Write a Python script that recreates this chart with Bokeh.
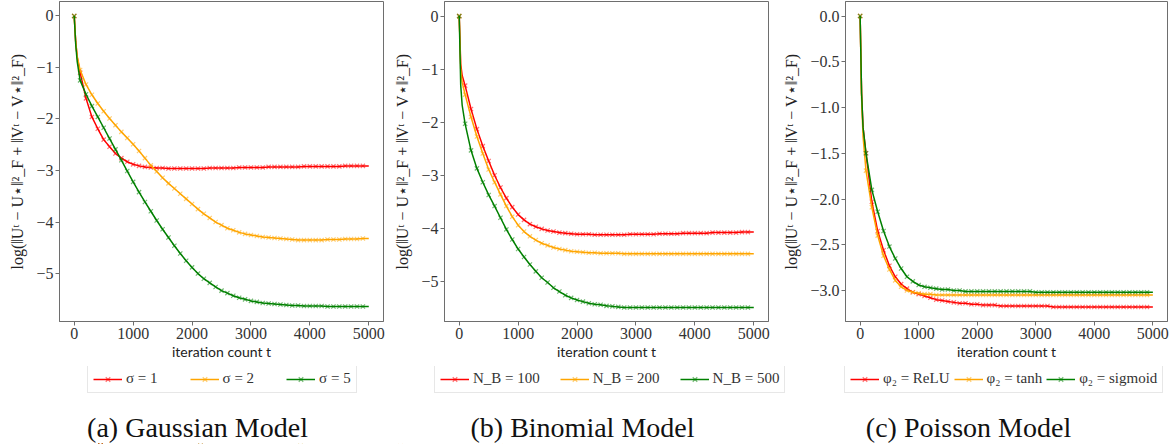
from bokeh.plotting import figure
from bokeh.layouts import row
from bokeh.models import (FixedTicker, CustomJSTickFormatter, Legend, LegendItem, Label)
from bokeh.embed import file_html
from bokeh.resources import INLINE

# ---------------- data ----------------
iters = list(range(0, 5001, 100))          # iteration counts of the sampled points
early_iters = [25, 50]                      # extra points read on the steep start

# (a) Gaussian model
gauss_s1 = [0, -1.10, -1.60, -1.96, -2.19, -2.40, -2.54, -2.67, -2.76, -2.83,
            -2.88, -2.91, -2.93, -2.94, -2.95, -2.95, -2.96, -2.96, -2.96, -2.96,
            -2.96, -2.96, -2.96, -2.95, -2.95, -2.95, -2.95, -2.95, -2.94, -2.94,
            -2.94, -2.94, -2.94, -2.93, -2.93, -2.93, -2.93, -2.93, -2.93, -2.92,
            -2.92, -2.92, -2.92, -2.92, -2.92, -2.92, -2.91, -2.91, -2.91, -2.91,
            -2.91]
gauss_s2 = [0, -1.05, -1.33, -1.53, -1.70, -1.85, -1.99, -2.12, -2.25, -2.37,
            -2.49, -2.62, -2.76, -2.90, -3.02, -3.14, -3.25, -3.35, -3.45, -3.55,
            -3.65, -3.75, -3.84, -3.92, -4.00, -4.06, -4.12, -4.16, -4.20, -4.23,
            -4.25, -4.27, -4.29, -4.30, -4.31, -4.32, -4.33, -4.34, -4.35, -4.35,
            -4.35, -4.35, -4.35, -4.34, -4.34, -4.34, -4.33, -4.33, -4.33, -4.32,
            -4.32]
gauss_s5 = [0, -1.25, -1.52, -1.75, -1.96, -2.17, -2.38, -2.59, -2.80, -3.01,
            -3.22, -3.42, -3.61, -3.79, -3.97, -4.14, -4.30, -4.46, -4.61, -4.75,
            -4.88, -5.00, -5.10, -5.18, -5.26, -5.33, -5.38, -5.43, -5.47, -5.50,
            -5.53, -5.55, -5.57, -5.58, -5.59, -5.60, -5.61, -5.62, -5.62, -5.63,
            -5.63, -5.63, -5.63, -5.64, -5.64, -5.64, -5.64, -5.64, -5.64, -5.64,
            -5.64]
gauss_early = [[-0.50, -0.80], [-0.50, -0.78], [-0.55, -0.88]]

# (b) Binomial model
binom_100 = [0, -1.31, -1.75, -2.13, -2.45, -2.73, -3.00, -3.23, -3.43, -3.60,
             -3.74, -3.84, -3.92, -3.97, -4.01, -4.04, -4.06, -4.08, -4.09, -4.10,
             -4.11, -4.11, -4.11, -4.12, -4.12, -4.12, -4.12, -4.12, -4.12, -4.11,
             -4.11, -4.11, -4.11, -4.11, -4.10, -4.10, -4.10, -4.10, -4.09, -4.09,
             -4.09, -4.09, -4.09, -4.08, -4.08, -4.08, -4.08, -4.08, -4.07, -4.07,
             -4.07]
binom_200 = [0, -1.48, -1.90, -2.27, -2.59, -2.89, -3.13, -3.36, -3.58, -3.78,
             -3.94, -4.06, -4.15, -4.22, -4.28, -4.32, -4.36, -4.39, -4.41, -4.43,
             -4.44, -4.45, -4.46, -4.46, -4.47, -4.47, -4.47, -4.47, -4.48, -4.48,
             -4.48, -4.48, -4.48, -4.48, -4.48, -4.48, -4.48, -4.48, -4.48, -4.48,
             -4.48, -4.48, -4.48, -4.48, -4.48, -4.48, -4.48, -4.48, -4.48, -4.48,
             -4.48]
binom_500 = [0, -2.03, -2.53, -2.87, -3.13, -3.37, -3.58, -3.80, -4.02, -4.21,
             -4.39, -4.54, -4.68, -4.81, -4.93, -5.02, -5.12, -5.19, -5.26, -5.31,
             -5.35, -5.38, -5.41, -5.43, -5.44, -5.46, -5.47, -5.48, -5.49, -5.49,
             -5.49, -5.49, -5.49, -5.49, -5.49, -5.49, -5.49, -5.49, -5.49, -5.49,
             -5.49, -5.49, -5.49, -5.49, -5.49, -5.49, -5.49, -5.49, -5.49, -5.49,
             -5.49]
binom_early = [[-0.90, -1.12], [-1.00, -1.25], [-1.30, -1.68]]

# (c) Poisson model
pois_relu = [0, -1.50, -2.03, -2.35, -2.56, -2.73, -2.85, -2.93, -2.98, -3.02,
             -3.04, -3.06, -3.08, -3.10, -3.11, -3.12, -3.13, -3.14, -3.14, -3.15,
             -3.15, -3.16, -3.16, -3.16, -3.17, -3.17, -3.17, -3.17, -3.17, -3.17,
             -3.17, -3.17, -3.17, -3.18, -3.18, -3.18, -3.18, -3.18, -3.18, -3.18,
             -3.18, -3.18, -3.18, -3.18, -3.18, -3.18, -3.18, -3.18, -3.18, -3.18,
             -3.18]
pois_tanh = [0, -1.69, -2.09, -2.40, -2.62, -2.77, -2.89, -2.96, -3.00, -3.02,
             -3.03, -3.04, -3.04, -3.05, -3.05, -3.05, -3.05, -3.05, -3.05, -3.05,
             -3.05, -3.05, -3.05, -3.05, -3.05, -3.05, -3.05, -3.05, -3.05, -3.05,
             -3.05, -3.05, -3.05, -3.05, -3.05, -3.05, -3.05, -3.05, -3.05, -3.05,
             -3.05, -3.05, -3.05, -3.05, -3.05, -3.05, -3.05, -3.05, -3.05, -3.05,
             -3.05]
pois_sigmoid = [0, -1.50, -1.90, -2.14, -2.35, -2.52, -2.65, -2.76, -2.85, -2.90,
                -2.94, -2.96, -2.97, -2.98, -2.99, -2.99, -3.00, -3.00, -3.01, -3.01,
                -3.01, -3.01, -3.01, -3.01, -3.01, -3.01, -3.01, -3.01, -3.01, -3.01,
                -3.02, -3.02, -3.02, -3.02, -3.02, -3.02, -3.02, -3.02, -3.02, -3.02,
                -3.02, -3.02, -3.02, -3.02, -3.02, -3.02, -3.02, -3.02, -3.02, -3.02,
                -3.02]
pois_early = [[-0.85, -1.22], [-0.90, -1.32], [-0.85, -1.22]]

gauss_labels = ["σ = 1", "σ = 2", "σ = 5"]
binom_labels = ["N_B = 100", "N_B = 200", "N_B = 500"]
pois_labels = ["φ₂ = ReLU", "φ₂ = tanh", "φ₂ = sigmoid"]

captions = ["(a) Gaussian Model", "(b) Binomial Model", "(c) Poisson Model"]

x_ticks = [0, 1000, 2000, 3000, 4000, 5000]
y_ticks_ab = [0, -1, -2, -3, -4, -5]
y_ticks_c = [0.0, -0.5, -1.0, -1.5, -2.0, -2.5, -3.0]

COLORS = ["red", "orange", "green"]
SERIF = "Liberation Serif"
YLABEL = "log(‖Uᵗ − U⋆‖²_F + ‖Vᵗ − V⋆‖²_F)"
SPINE = "#6e6e6e"
TOP_H = 366
BOT_H = 78
TOTAL_W = 1172


def panel(series, early, y_range, y_ticks, decimals, width, ml, mr):
    p = figure(width=width, height=TOP_H,
               min_border_left=ml, min_border_right=mr,
               min_border_top=1, min_border_bottom=45,
               x_range=(-250, 5250), y_range=y_range,
               output_backend="svg", toolbar_location=None,
               background_fill_color="white", border_fill_color="white")
    p.xgrid.visible = False
    p.ygrid.visible = False
    p.outline_line_color = SPINE
    p.outline_line_width = 1
    for ax in (p.xaxis[0], p.yaxis[0]):
        ax.axis_line_color = SPINE
        ax.major_tick_line_color = SPINE
        ax.major_tick_in = 0
        ax.major_tick_out = 4
        ax.minor_tick_line_color = None
        ax.major_label_text_font = SERIF
        ax.major_label_text_font_size = "16px"
        ax.major_label_text_color = "#333333"
        ax.major_label_standoff = 2
    p.xaxis.ticker = FixedTicker(ticks=x_ticks)
    p.yaxis.ticker = FixedTicker(ticks=y_ticks)
    p.yaxis.formatter = CustomJSTickFormatter(
        args=dict(d=decimals),
        code="const s = Math.abs(tick).toFixed(d); return (tick < -1e-9 ? '\u2212' : '') + s;")
    p.xaxis.axis_label = "iteration count t"
    p.xaxis.axis_label_text_font = "Lato"
    p.xaxis.axis_label_text_font_style = "normal"
    p.xaxis.axis_label_text_font_size = "14px"
    p.xaxis.axis_label_text_color = "#222222"
    p.xaxis.axis_label_standoff = 1
    p.yaxis.axis_label = YLABEL
    p.yaxis.axis_label_text_font = SERIF
    p.yaxis.axis_label_text_font_style = "normal"
    p.yaxis.axis_label_text_font_size = "16px"
    p.yaxis.axis_label_text_color = "#222222"
    p.yaxis.axis_label_standoff = 7

    for vals, ev, col in zip(series, early, COLORS):
        lx = [iters[0]] + early_iters + iters[1:]
        ly = [vals[0]] + ev + vals[1:]
        p.line(lx, ly, line_color=col, line_width=1.5)
        p.scatter(iters[:-1], vals[:-1], marker="x", size=6,
                  line_color=col, line_width=1.2, line_alpha=0.55)
    return p


p1 = panel([gauss_s1, gauss_s2, gauss_s5], gauss_early,
           (-5.93, 0.28), y_ticks_ab, 0, 390, 59, 7)
p2 = panel([binom_100, binom_200, binom_500], binom_early,
           (-5.755, 0.275), y_ticks_ab, 0, 390, 54, 12)
p3 = panel([pois_relu, pois_tanh, pois_sigmoid], pois_early,
           (-3.339, 0.159), y_ticks_c, 1, 392, 63, 5)

top = row(p1, p2, p3, spacing=0,
          styles={"position": "absolute", "left": "0px", "top": "0px"})

# strip under the three plots: legends and sub-captions (x in page pixels)
b = figure(width=TOTAL_W, height=BOT_H, min_border=0,
           x_range=(0, TOTAL_W), y_range=(0, BOT_H),
           x_axis_type=None, y_axis_type=None,
           output_backend="svg", toolbar_location=None,
           outline_line_color=None,
           background_fill_color="white", border_fill_color="white",
           styles={"position": "absolute", "left": "0px", "top": f"{TOP_H}px"})
b.xgrid.visible = False
b.ygrid.visible = False

all_series = [[gauss_s1, gauss_s2, gauss_s5],
              [binom_100, binom_200, binom_500],
              [pois_relu, pois_tanh, pois_sigmoid]]
all_labels = [gauss_labels, binom_labels, pois_labels]
legend_left = [87, 434, 844]
legend_spacing = [32, 20, 4]
caption_center = [197, 582, 968]

for series, labels, lx, sp in zip(all_series, all_labels, legend_left, legend_spacing):
    items = []
    for vals, lab, col in zip(series, labels, COLORS):
        # legend proxies: the series itself, which lies outside this strip's range
        lr = b.line(iters[1:], vals[1:], line_color=col, line_width=1.5)
        sr = b.scatter(iters[1:], vals[1:], marker="x", size=6,
                       line_color=col, line_width=1.2, line_alpha=0.55)
        items.append(LegendItem(label=lab, renderers=[lr, sr]))
    leg = Legend(items=items, orientation="horizontal", location=(lx, BOT_H - 27),
                 glyph_width=29, glyph_height=16, label_height=16,
                 label_standoff=4, spacing=sp, padding=5, margin=0,
                 label_text_font=SERIF, label_text_font_size="15px",
                 label_text_color="#333333",
                 border_line_color="#d0d0d0", border_line_width=1,
                 background_fill_color="white", background_fill_alpha=1)
    b.add_layout(leg)

for cap, cx in zip(captions, caption_center):
    b.add_layout(Label(x=cx, y=BOT_H - 61, text=cap,
                       text_font=SERIF, text_font_size="28px",
                       text_align="center", text_baseline="middle",
                       text_color="#111111"))

open("out.html", "w").write(file_html([top, b], INLINE))
